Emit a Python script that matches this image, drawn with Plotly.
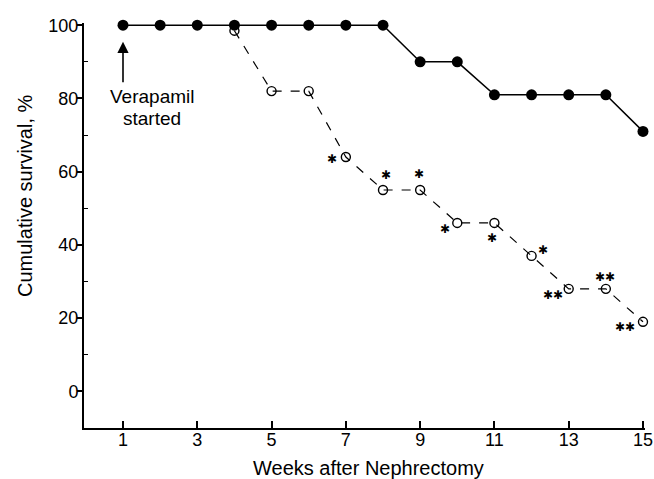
import plotly.graph_objects as go

weeks_ctrl = [1, 2, 3, 4, 5, 6, 7, 8, 9, 10, 11, 12, 13, 14, 15]
surv_ctrl = [100, 100, 100, 100, 100, 100, 100, 100, 90, 90, 81, 81, 81, 81, 71]
weeks_untr = [4, 5, 6, 7, 8, 9, 10, 11, 12, 13, 14, 15]
surv_untr = [98.5, 82, 82, 64, 55, 55, 46, 46, 37, 28, 28, 19]
# significance marks: (week, label, x offset px, y offset px)
sig_weeks = [7, 8, 9, 10, 11, 12, 13, 14, 15]
sig_labels = ["✱", "✱", "✱", "✱", "✱", "✱", "✱✱", "✱✱", "✱✱"]
sig_dx = [-14, 3, -1, -12, -2, 11, -16, -1, -18]
sig_dy = [-2, 15, 16, -6, -15, 6, -6, 12, -5]
x_ticks = [1, 3, 5, 7, 9, 11, 13, 15]
y_ticks = [0, 20, 40, 60, 80, 100]

FONT = "Liberation Sans, Arial, sans-serif"
W, H = 654, 479
ML, MR, MT, MB = 84, 9, 23, 51
PW, PH = W - ML - MR, H - MT - MB


def px_to_paper(px, py):
    return (px - ML) / PW, (H - MB - py) / PH


fig = go.Figure()
fig.add_trace(go.Scatter(
    x=weeks_untr, y=surv_untr, mode="lines+markers",
    line=dict(color="black", width=1.2, dash="dash"),
    marker=dict(symbol="circle-open", size=9, color="black", line=dict(width=1.4)),
    cliponaxis=False, showlegend=False))
fig.add_trace(go.Scatter(
    x=weeks_ctrl, y=surv_ctrl, mode="lines+markers",
    line=dict(color="black", width=1.5),
    marker=dict(symbol="circle", size=11, color="black"),
    cliponaxis=False, showlegend=False))

surv_map = dict(zip(weeks_untr, surv_untr))
for w, lab, dx, dy in zip(sig_weeks, sig_labels, sig_dx, sig_dy):
    fig.add_annotation(x=w, y=surv_map[w], text=lab, showarrow=False,
                       xshift=dx, yshift=dy,
                       font=dict(family="DejaVu Sans", size=12, color="black"))

# arrow
fig.add_annotation(x=1, y=95.5, ax=1, ay=84, xref="x", yref="y", axref="x", ayref="y",
                   text="", showarrow=True, arrowhead=2, arrowsize=1.4, arrowwidth=1.6,
                   arrowcolor="black")
fig.add_annotation(x=1, y=80.5, xref="x", yref="y", xshift=29, text="Verapamil",
                   showarrow=False, font=dict(family=FONT, size=19, color="black"))
fig.add_annotation(x=1, y=74.5, xref="x", yref="y", xshift=29, text="started",
                   showarrow=False, font=dict(family=FONT, size=19, color="black"))

# axis titles
tx, ty = px_to_paper(25, 196)
fig.add_annotation(x=tx, y=ty, xref="paper", yref="paper", text="Cumulative survival, %",
                   showarrow=False, textangle=-90, xanchor="center", yanchor="middle",
                   font=dict(family=FONT, size=20, color="black"))
bx, by = px_to_paper(368, 468)
fig.add_annotation(x=bx, y=by, xref="paper", yref="paper", text="Weeks after Nephrectomy",
                   showarrow=False, xanchor="center", yanchor="middle",
                   font=dict(family=FONT, size=20, color="black"))

fig.update_layout(
    width=W, height=H,
    margin=dict(l=ML, r=MR, t=MT, b=MB, autoexpand=False),
    paper_bgcolor="white", plot_bgcolor="white",
    font=dict(family=FONT, size=16, color="black"),
)
fig.update_xaxes(
    range=[-0.05, 15.054], tickvals=x_ticks, ticks="inside", ticklen=7, tickwidth=1.5,
    tickcolor="black", showline=True, linecolor="black", linewidth=2, showgrid=False,
    zeroline=False, tickfont=dict(size=18), automargin=False, ticklabelstandoff=-6)
fig.update_yaxes(
    range=[-10, 100.6], tickvals=y_ticks, ticks="outside", ticklen=5, tickwidth=1.5,
    tickcolor="black", showline=True, linecolor="black", linewidth=2, showgrid=False,
    zeroline=False, tickfont=dict(size=18), automargin=False, ticklabelstandoff=-5,
    minor=dict(tickvals=[10, 30, 50, 70, 90], ticks="inside", ticklen=4, tickwidth=1,
               tickcolor="black"))

fig.write_html("out.html")
